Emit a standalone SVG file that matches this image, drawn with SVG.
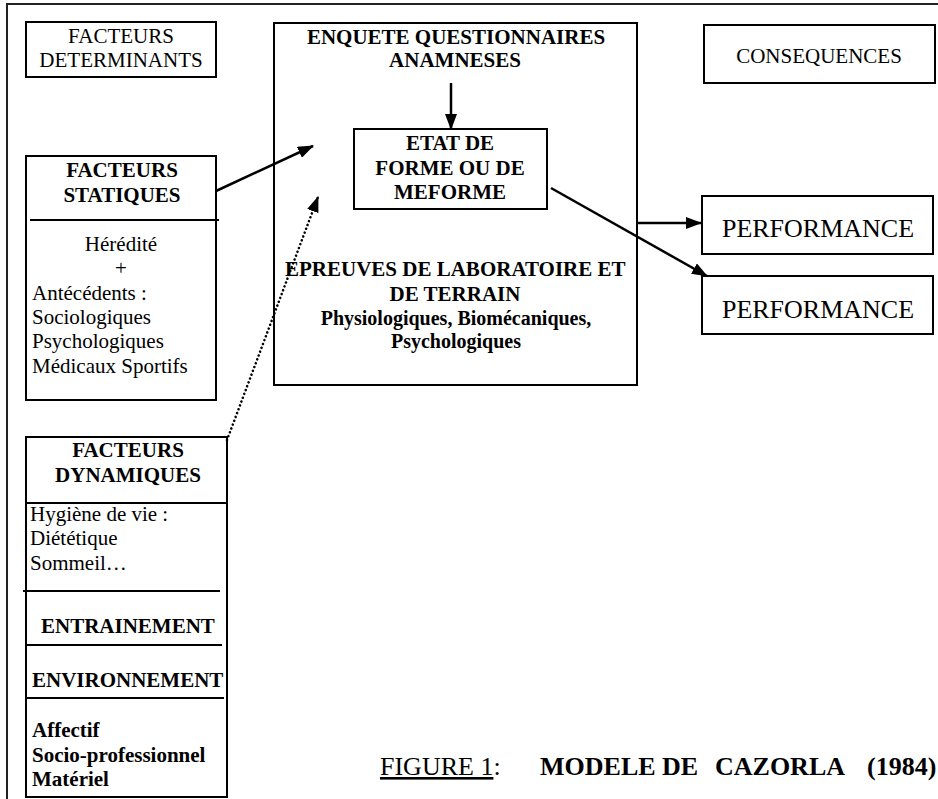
<svg xmlns="http://www.w3.org/2000/svg" width="938" height="799" viewBox="0 0 938 799">
  <style>
    .box { fill: #fff; stroke: #000; stroke-width: 2; }
    .rule { stroke: #000; stroke-width: 2; fill: none; }
    .frame { stroke: #222; stroke-width: 2; fill: none; }
    text { font-family: "Liberation Serif", "Times New Roman", serif; fill: #000; }
    .r { font-size: 21px; }
    .b { font-size: 21px; font-weight: bold; }
    .bs { font-size: 20px; font-weight: bold; }
    .big { font-size: 26px; }
    .c { text-anchor: middle; }
    .arrow { stroke: #000; stroke-width: 2.5; fill: none; marker-end: url(#head); }
    .dotted { stroke: #000; stroke-width: 2.5; fill: none; stroke-linecap: round; stroke-dasharray: 0.1 4; marker-end: url(#head); }
  </style>
  <defs>
    <marker id="head" viewBox="0 0 16 12" refX="15" refY="6" markerWidth="16" markerHeight="12" markerUnits="userSpaceOnUse" orient="auto">
      <path d="M0,0 L16,6 L0,12 Z" fill="#000"/>
    </marker>
  </defs>

  <rect width="938" height="799" fill="#fff"/>
  <!-- page frame -->
  <path class="frame" d="M7,799 L7,4 L938,4"/>

  <g id="facteurs-determinants">
    <rect class="box" x="26" y="22" width="190" height="55"/>
    <text class="r c" x="121" y="43">FACTEURS</text>
    <text class="r c" x="121" y="67">DETERMINANTS</text>
  </g>

  <g id="consequences">
    <rect class="box" x="704" y="25" width="231" height="58"/>
    <text class="r c" x="819" y="63">CONSEQUENCES</text>
  </g>

  <g id="enquete">
    <rect class="box" x="274" y="23" width="363" height="362"/>
    <text class="b c" x="456" y="44">ENQUETE QUESTIONNAIRES</text>
    <text class="b c" x="455" y="67">ANAMNESES</text>
    <text class="b" x="285" y="276">EPREUVES DE LABORATOIRE ET</text>
    <text class="b c" x="455" y="301">DE TERRAIN</text>
    <text class="bs c" x="456" y="325">Physiologiques, Biomécaniques,</text>
    <text class="bs c" x="456" y="348">Psychologiques</text>
  </g>

  <g id="etat-de-forme">
    <rect class="box" x="354" y="129" width="193" height="80"/>
    <text class="b c" x="450" y="150">ETAT DE</text>
    <text class="b c" x="450" y="175">FORME OU DE</text>
    <text class="b c" x="450" y="199">MEFORME</text>
  </g>

  <g id="performance-1">
    <rect class="box" x="702" y="196" width="231" height="58"/>
    <text class="big c" x="818" y="237">PERFORMANCE</text>
  </g>

  <g id="performance-2">
    <rect class="box" x="702" y="276" width="231" height="58"/>
    <text class="big c" x="818" y="318">PERFORMANCE</text>
  </g>

  <g id="facteurs-statiques">
    <rect class="box" x="26" y="156" width="190" height="244"/>
    <line class="rule" x1="30" y1="220" x2="219" y2="220"/>
    <text class="b c" x="122" y="177">FACTEURS</text>
    <text class="b c" x="122" y="202">STATIQUES</text>
    <text class="r c" x="121" y="251">Hérédité</text>
    <text class="r c" x="121" y="275">+</text>
    <text class="r" x="32" y="300">Antécédents :</text>
    <text class="r" x="32" y="324">Sociologiques</text>
    <text class="r" x="32" y="348">Psychologiques</text>
    <text class="r" x="32" y="373">Médicaux Sportifs</text>
  </g>

  <g id="facteurs-dynamiques">
    <rect class="box" x="26" y="437" width="201" height="360"/>
    <line class="rule" x1="26" y1="503" x2="227" y2="503"/>
    <line class="rule" x1="23" y1="591" x2="220" y2="591"/>
    <line class="rule" x1="26" y1="645" x2="222" y2="645"/>
    <line class="rule" x1="26" y1="698" x2="224" y2="698"/>
    <text class="b c" x="128" y="457">FACTEURS</text>
    <text class="b c" x="128" y="482">DYNAMIQUES</text>
    <text class="r" x="30" y="521">Hygiène de vie :</text>
    <text class="r" x="30" y="545">Diététique</text>
    <text class="r" x="30" y="570">Sommeil…</text>
    <text class="b" x="41" y="633">ENTRAINEMENT</text>
    <text class="b" x="32" y="687">ENVIRONNEMENT</text>
    <text class="b" x="32" y="737">Affectif</text>
    <text class="b" x="32" y="762">Socio-professionnel</text>
    <text class="b" x="32" y="786">Matériel</text>
  </g>

  <g id="connectors">
    <line class="arrow" x1="216" y1="191" x2="313" y2="146"/>
    <line class="dotted" x1="227" y1="440" x2="318" y2="197"/>
    <line class="arrow" x1="451" y1="83" x2="451" y2="129"/>
    <line class="arrow" x1="551" y1="188" x2="707" y2="276"/>
    <line class="arrow" x1="637" y1="223" x2="701" y2="223"/>
  </g>

  <g id="caption">
    <text class="big" x="380" y="775"><tspan text-decoration="underline">FIGURE 1</tspan>:</text>
    <text class="big" x="540" y="775" font-weight="bold">MODELE DE</text>
    <text class="big" x="715" y="775" font-weight="bold">CAZORLA</text>
    <text class="big" x="867" y="775" font-weight="bold">(1984)</text>
  </g>
</svg>
